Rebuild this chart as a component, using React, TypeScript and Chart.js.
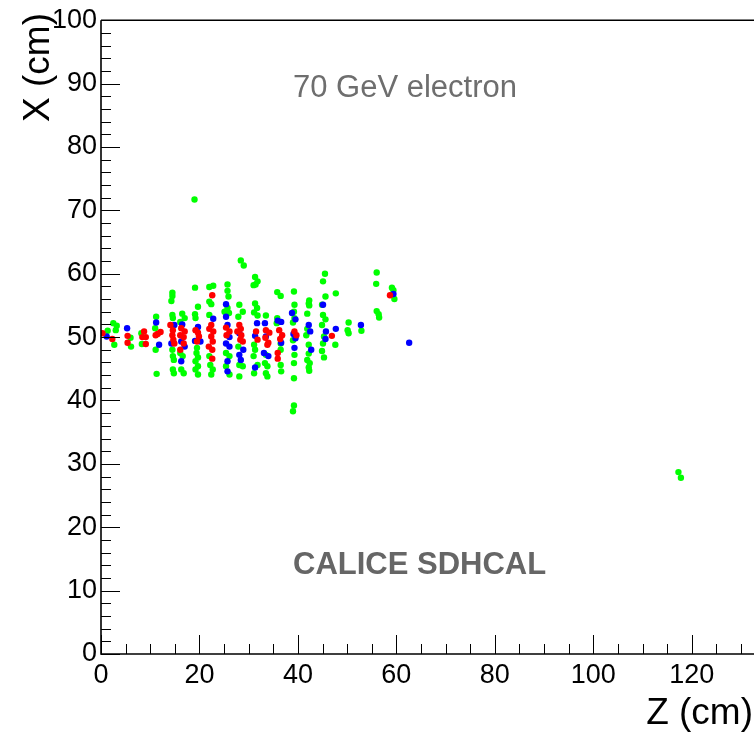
import React, { useEffect, useRef } from "react";
import { Chart, registerables } from "chart.js";

Chart.register(...registerables);

// Hit positions: [Z (cm), X (cm)]
const greenHits: [number, number][] = [
  [1.35, 51.0], [2.5, 52.2], [3.2, 51.8], [3.0, 51.1], [2.7, 48.8],
  [6.0, 49.9], [6.1, 48.5],
  [8.2, 50.6], [8.3, 48.9],
  [11.2, 53.2], [11.0, 51.4], [11.1, 48.0], [11.3, 44.2],
  [14.5, 57.0], [14.5, 56.5], [14.3, 55.7], [14.5, 53.5], [14.6, 53.0], [14.5, 48.0], [14.6, 47.0], [14.8, 46.4], [14.6, 44.9], [14.8, 44.3],
  [16.5, 53.7], [17.0, 53.0], [16.1, 52.4], [16.1, 47.5], [16.6, 47.0], [16.3, 44.9], [16.8, 44.3],
  [19.0, 71.7], [19.1, 57.8], [19.7, 54.8], [19.1, 53.6], [19.2, 53.0], [19.5, 48.3], [19.4, 47.5], [19.7, 46.8], [19.2, 46.2], [19.7, 45.4], [19.2, 44.9], [19.7, 44.1],
  [22.0, 57.9], [22.8, 58.1], [22.0, 55.6], [22.4, 55.2], [22.0, 53.5], [22.0, 47.0], [22.2, 45.6], [22.7, 44.9], [22.4, 44.1],
  [25.7, 58.3], [25.7, 57.3], [25.9, 56.4], [25.7, 54.6], [25.1, 54.0], [26.0, 53.8], [25.4, 47.5], [26.1, 47.0], [25.4, 45.4], [26.1, 44.1],
  [28.4, 62.1], [29.0, 61.3], [28.1, 55.1], [28.8, 54.0], [27.9, 53.2], [27.9, 48.5], [28.1, 45.6], [28.8, 45.4], [28.1, 43.8],
  [31.3, 59.5], [31.8, 58.8], [31.0, 58.2], [31.4, 58.3], [31.3, 55.3], [31.7, 54.6], [31.1, 53.9], [31.8, 53.4], [31.1, 48.8], [31.3, 48.0], [31.0, 47.0], [31.1, 44.3], [31.8, 45.6],
  [33.5, 53.4], [33.5, 47.2], [33.3, 45.9], [33.8, 45.4], [33.5, 44.3], [33.8, 43.8],
  [35.8, 57.1], [36.5, 56.5], [35.8, 53.0], [35.7, 52.2], [36.5, 49.0], [36.5, 48.0], [36.5, 45.6], [36.6, 44.6],
  [39.2, 57.2], [39.3, 55.1], [39.2, 54.0], [39.3, 53.0], [39.0, 52.3], [39.0, 49.5], [39.3, 47.2], [39.2, 45.9], [39.2, 43.5], [39.2, 39.2], [39.0, 38.3],
  [42.2, 55.3], [42.3, 55.8], [42.3, 55.0], [41.9, 53.7], [41.9, 51.3], [41.7, 50.3], [42.2, 48.8], [42.2, 47.4], [41.9, 46.4], [42.4, 45.9], [42.2, 45.2], [42.3, 44.7],
  [45.5, 60.0], [45.1, 58.8], [45.6, 56.4], [44.9, 55.1], [45.1, 53.5], [45.6, 52.8], [44.9, 51.9], [45.3, 50.1], [45.1, 49.0], [44.9, 47.8], [45.3, 46.8],
  [47.7, 56.9], [47.6, 48.8], [50.3, 52.3], [50.1, 51.1], [50.3, 50.6], [52.9, 51.0],
  [56.0, 60.2], [55.9, 58.4], [56.0, 54.1], [56.4, 53.6], [56.5, 53.1],
  [59.1, 57.8], [59.4, 57.4], [59.6, 56.0],
  [117.3, 28.7], [117.8, 27.8],
];

const blueHits: [number, number][] = [
  [1.15, 50.1], [5.3, 51.4], [11.2, 52.3], [11.8, 48.8],
  [14.9, 51.9], [14.3, 49.0],
  [16.5, 52.0], [16.3, 49.3], [17.0, 48.5], [16.3, 46.2],
  [19.7, 51.6], [19.1, 49.4], [20.2, 49.3],
  [22.8, 52.9],
  [25.4, 55.2], [25.4, 53.2], [25.7, 51.9], [26.1, 50.0], [25.4, 49.0], [26.1, 48.5], [25.7, 46.2], [25.7, 44.6],
  [28.1, 50.6], [28.9, 48.0], [28.1, 47.2], [28.4, 46.4],
  [31.7, 52.2], [31.3, 50.2], [31.3, 45.2],
  [33.3, 52.2], [33.5, 50.1], [33.1, 47.5], [34.0, 47.0],
  [35.9, 52.6], [36.6, 52.4], [36.6, 49.1],
  [38.8, 53.8], [39.5, 52.8], [39.1, 50.5], [39.5, 49.8], [39.3, 48.3],
  [42.2, 51.9], [42.5, 50.9], [42.7, 48.0],
  [45.1, 55.1], [45.7, 50.9], [45.6, 49.7],
  [47.7, 51.3], [52.8, 51.9], [59.4, 56.8], [62.6, 49.1],
];

const redHits: [number, number][] = [
  [0.3, 50.6], [2.3, 49.7], [5.4, 50.2], [5.4, 49.1], [8.75, 50.9], [8.4, 50.0], [9.1, 50.0], [9.1, 48.9],
  [11.5, 50.5], [12.1, 50.8], [11.1, 50.3],
  [14.1, 51.9], [14.6, 51.1], [14.5, 50.3], [14.7, 49.6], [14.9, 49.0],
  [16.3, 51.4], [17.0, 50.9], [16.1, 50.3], [16.8, 50.0], [16.8, 49.0], [16.1, 48.0],
  [19.2, 51.1], [19.7, 50.7], [19.9, 50.1], [19.5, 49.3],
  [22.6, 56.6], [22.4, 51.9], [22.0, 51.3], [22.8, 50.9], [22.4, 50.1], [22.7, 49.3], [21.9, 48.5], [22.6, 48.0], [22.6, 46.6],
  [25.4, 51.5], [26.1, 50.9], [25.5, 50.3],
  [28.1, 51.9], [28.4, 51.3], [27.7, 50.9], [28.5, 50.3], [28.3, 49.6], [28.8, 49.3],
  [31.5, 50.9], [31.8, 49.6],
  [33.5, 51.1], [34.2, 50.7], [33.4, 49.9], [34.0, 49.1], [33.8, 48.8],
  [36.2, 51.1], [36.8, 50.3], [36.4, 49.7], [35.9, 47.5], [35.9, 46.6],
  [39.3, 50.9], [39.7, 50.3],
  [46.9, 50.2], [58.7, 56.6],
];

const xTickValues = [0, 20, 40, 60, 80, 100, 120];
const yTickValues = [0, 10, 20, 30, 40, 50, 60, 70, 80, 90, 100];
const xMinorStep = 5;
const yMinorStep = 2;
const xRange = [0, 132];
const yRange = [0, 100];

const xTitle = "Z (cm)";
const yTitle = "X (cm)";
const eventLabel = "70 GeV electron";
const experimentLabel = "CALICE SDHCAL";

const FONT = '"Liberation Sans", Arial, Helvetica, sans-serif';

const toPoints = (hits: [number, number][]) => hits.map(([z, x]) => ({ x: z, y: x }));

const rootFramePlugin = {
  id: "rootFrame",
  afterDraw(chart: any) {
    const { ctx, chartArea } = chart;
    const xs = chart.scales.x;
    const ys = chart.scales.y;
    const left = chartArea.left;
    const bottom = chartArea.bottom;
    const top = chartArea.top;
    const right = chart.width;
    ctx.save();
    ctx.strokeStyle = "#000";
    // frame
    ctx.lineWidth = 1.6;
    ctx.beginPath();
    ctx.moveTo(left, top);
    ctx.lineTo(left, bottom);
    ctx.lineTo(right, bottom);
    ctx.moveTo(left, top);
    ctx.lineTo(right, top);
    ctx.stroke();
    // ticks
    ctx.lineWidth = 1;
    ctx.beginPath();
    for (let v = yRange[0]; v <= yRange[1] + 1e-6; v += yMinorStep) {
      const py = Math.round(ys.getPixelForValue(v)) + 0.5;
      const len = Math.abs(v % 10) < 1e-6 ? 19 : 10;
      ctx.moveTo(left, py);
      ctx.lineTo(left + len, py);
    }
    for (let v = xRange[0]; v <= xRange[1] + 1e-6; v += xMinorStep) {
      const px = Math.round(xs.getPixelForValue(v)) + 0.5;
      const len = Math.abs(v % 20) < 1e-6 ? 19 : 10;
      ctx.moveTo(px, bottom);
      ctx.lineTo(px, bottom - len);
    }
    ctx.stroke();

    // texts
    ctx.fillStyle = "#000";
    ctx.font = `37px ${FONT}`;
    ctx.textAlign = "right";
    ctx.textBaseline = "alphabetic";
    ctx.fillText(xTitle, 753, 724);

    ctx.save();
    ctx.translate(49, 13);
    ctx.rotate(-Math.PI / 2);
    ctx.textAlign = "right";
    ctx.textBaseline = "alphabetic";
    ctx.fillText(yTitle, 0, 0);
    ctx.restore();

    ctx.fillStyle = "#6e6e6e";
    ctx.textAlign = "left";
    ctx.font = `31px ${FONT}`;
    ctx.fillText(eventLabel, 293, 97);
    ctx.font = `bold 31px ${FONT}`;
    ctx.fillStyle = "#666666";
    ctx.fillText(experimentLabel, 293, 574);
    ctx.restore();
  },
};

export default function App() {
  const canvasRef = useRef<HTMLCanvasElement | null>(null);

  useEffect(() => {
    document.body.style.margin = "0";
    const canvas = canvasRef.current;
    if (!canvas) return;
    const pointStyle = (color: string) => ({
      backgroundColor: color,
      borderColor: color,
      borderWidth: 0,
      pointRadius: 3.2,
      pointHoverRadius: 3.2,
    });
    const chart = new Chart(canvas, {
      type: "scatter",
      data: {
        datasets: [
          { label: "red", data: toPoints(redHits), ...pointStyle("#ff0000") },
          { label: "blue", data: toPoints(blueHits), ...pointStyle("#0000ff") },
          { label: "green", data: toPoints(greenHits), ...pointStyle("#00ff00") },
        ],
      },
      options: {
        animation: false,
        responsive: true,
        maintainAspectRatio: false,
        layout: { padding: { top: 18, right: 0, left: 0, bottom: 0 } },
        plugins: { legend: { display: false }, tooltip: { enabled: false } },
        scales: {
          x: {
            type: "linear",
            min: xRange[0],
            max: xRange[1],
            grid: { display: false, drawTicks: false },
            border: { display: false },
            afterBuildTicks: (s: any) => {
              s.ticks = xTickValues.map((v) => ({ value: v }));
            },
            afterFit: (s: any) => {
              s.height = 81;
            },
            ticks: {
              autoSkip: false,
              maxRotation: 0,
              padding: 5,
              color: "#000",
              font: { family: FONT, size: 27 },
            },
          },
          y: {
            type: "linear",
            min: yRange[0],
            max: yRange[1],
            grid: { display: false, drawTicks: false },
            border: { display: false },
            afterBuildTicks: (s: any) => {
              s.ticks = yTickValues.map((v) => ({ value: v }));
            },
            afterFit: (s: any) => {
              s.width = 101;
            },
            ticks: {
              autoSkip: false,
              padding: 4,
              color: "#000",
              font: { family: FONT, size: 27 },
            },
          },
        },
      },
      plugins: [rootFramePlugin],
    });
    return () => chart.destroy();
  }, []);

  return (
    <div style={{ position: "absolute", left: 0, top: 0, width: 754, height: 735, background: "#fff" }}>
      <canvas ref={canvasRef} />
    </div>
  );
}
